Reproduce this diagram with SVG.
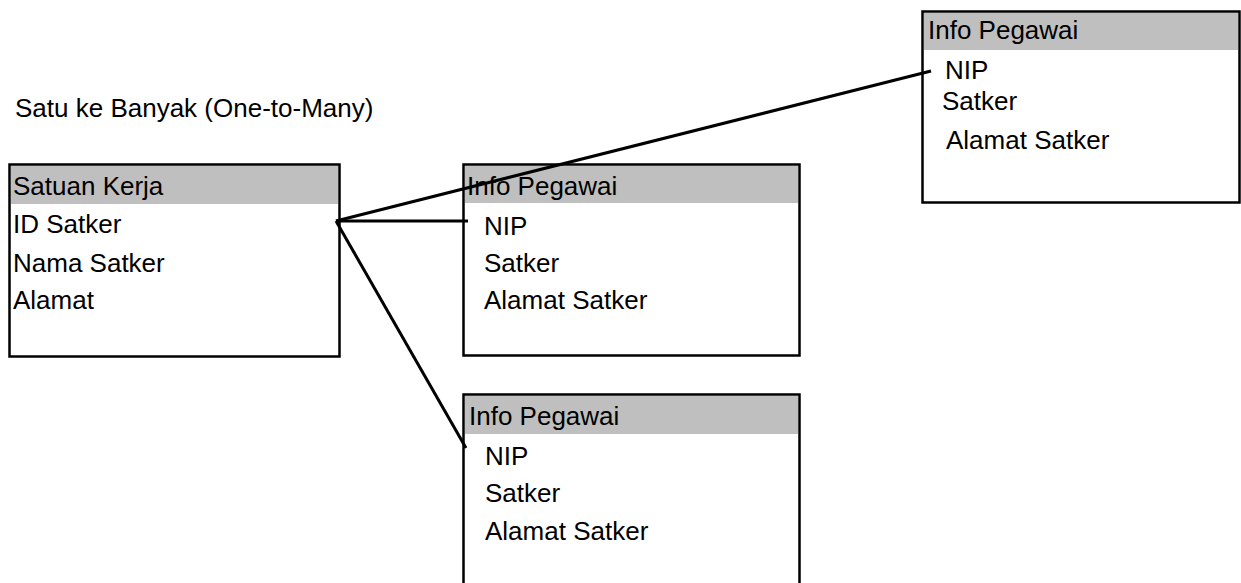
<svg xmlns="http://www.w3.org/2000/svg" width="1241" height="583" viewBox="0 0 1241 583">
<style>
.box{fill:#fff;stroke:#000;stroke-width:2.5}
.hdr{fill:#bfbfbf}
.t{font-family:"Liberation Sans",Arial,sans-serif;font-size:26px;fill:#000}
.c{stroke:#000;stroke-width:3;fill:none;stroke-linecap:butt}
</style>
<rect width="1241" height="583" fill="#fff"/>
<text class="t" x="15" y="117">Satu ke Banyak (One-to-Many)</text>
<g id="satuan-kerja">
<rect class="box" x="9.5" y="164.5" width="330" height="192"/>
<rect class="hdr" x="11" y="166" width="327" height="38"/>
<text class="t" x="13" y="195">Satuan Kerja</text>
<text class="t" x="13" y="233">ID Satker</text>
<text class="t" x="13" y="272">Nama Satker</text>
<text class="t" x="13" y="309">Alamat</text>
</g>
<g id="info-pegawai-1">
<rect class="box" x="463.5" y="164.5" width="336" height="191"/>
<rect class="hdr" x="465" y="166" width="333" height="37"/>
<text class="t" x="467" y="195">Info Pegawai</text>
<text class="t" x="484" y="235">NIP</text>
<text class="t" x="484" y="272">Satker</text>
<text class="t" x="484" y="309">Alamat Satker</text>
</g>
<g id="info-pegawai-2">
<path class="box" d="M463.5,590 V394.5 H799.5 V590"/>
<rect class="hdr" x="465" y="396" width="333" height="38"/>
<text class="t" x="469" y="425">Info Pegawai</text>
<text class="t" x="485" y="465">NIP</text>
<text class="t" x="485" y="502">Satker</text>
<text class="t" x="485" y="540">Alamat Satker</text>
</g>
<g id="info-pegawai-3">
<rect class="box" x="922.5" y="11.5" width="317" height="191"/>
<rect class="hdr" x="924" y="13" width="314" height="37"/>
<text class="t" x="928" y="39">Info Pegawai</text>
<text class="t" x="945" y="79">NIP</text>
<text class="t" x="942" y="110">Satker</text>
<text class="t" x="946" y="149">Alamat Satker</text>
</g>
<g id="connectors">
<line class="c" x1="336" y1="221" x2="468" y2="221"/>
<line class="c" x1="336" y1="221" x2="931" y2="71"/>
<line class="c" x1="336" y1="221" x2="466" y2="448"/>
</g>
</svg>
